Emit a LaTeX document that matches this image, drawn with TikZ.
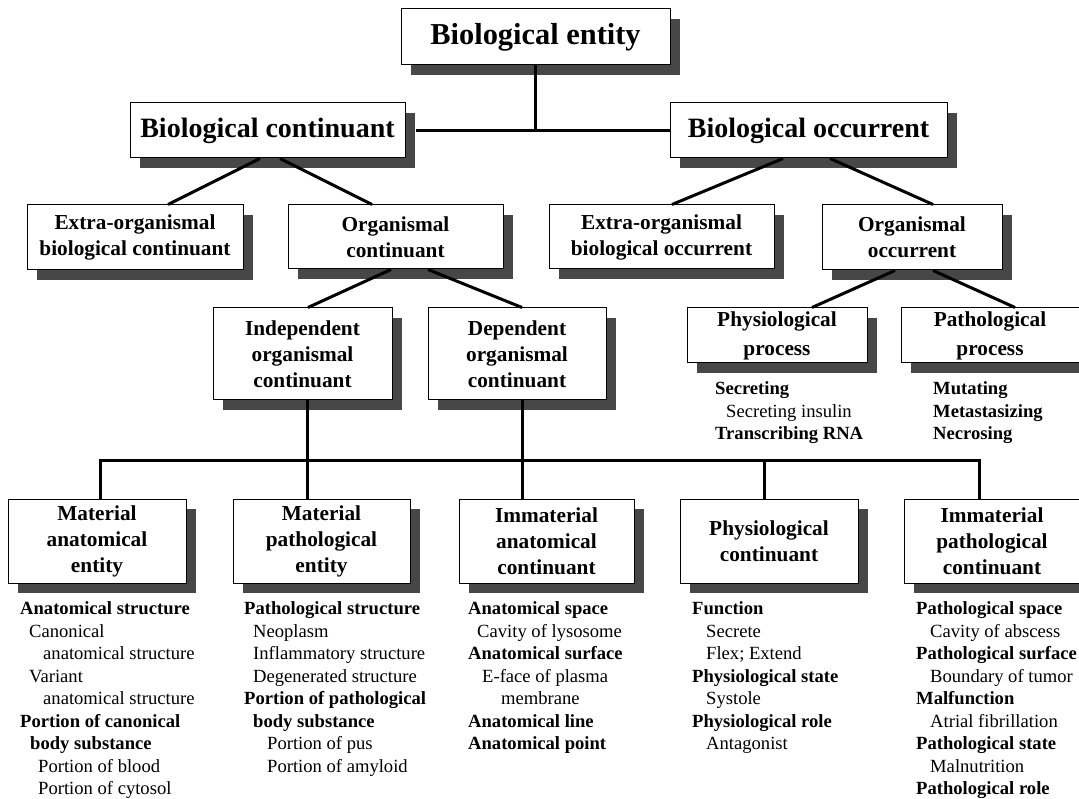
\documentclass[tikz,border=0pt]{standalone}
\usepackage{fontspec}
\setmainfont{Liberation Serif}

\begin{document}
\begin{tikzpicture}[
    x=1pt, y=-1pt,
    box/.style={rectangle, draw, fill=white, line width=1pt, align=center, inner sep=0pt,
        preaction={fill=black!72, transform canvas={shift={(10pt,-10pt)}}}},
    lvlone/.style={font=\fontsize{30.4}{34}\selectfont\bfseries},
    lvltwo/.style={font=\fontsize{28}{32}\selectfont\bfseries},
    lvlthree/.style={font=\fontsize{21.3}{26}\selectfont\bfseries},
    list/.style={anchor=north west, align=left, inner sep=0pt, font=\fontsize{18.6}{22.5}\selectfont},
    conn/.style={line width=3pt}
]
\useasboundingbox (0,0) rectangle (1079,799);

% Nodes
\node[box, lvlone, minimum width=269pt, minimum height=56pt] (entity) at (535.5,37) {Biological entity};
\node[box, lvltwo, minimum width=275pt, minimum height=55pt] (bcont) at (267.5,130.5) {Biological continuant};
\node[box, lvltwo, minimum width=277pt, minimum height=55pt] (bocc) at (808.5,130.5) {Biological occurrent};

\node[box, lvlthree, minimum width=216pt, minimum height=65pt] (xcont) at (135,237.5) {Extra-organismal\\biological continuant};
\node[box, lvlthree, minimum width=215pt, minimum height=64pt] (ocont) at (395.5,237) {Organismal\\continuant};
\node[box, lvlthree, minimum width=225pt, minimum height=64pt] (xocc) at (661.5,237) {Extra-organismal\\biological occurrent};
\node[box, lvlthree, minimum width=180pt, minimum height=65pt] (oocc) at (912,237.5) {Organismal\\occurrent};

\node[box, lvlthree, minimum width=179pt, minimum height=92pt] (indep) at (302.5,354) {Independent\\organismal\\continuant};
\node[box, lvlthree, minimum width=178pt, minimum height=92pt] (dep) at (517,354) {Dependent\\organismal\\continuant};
\node[box, lvlthree, minimum width=180pt, minimum height=55pt] (physproc) at (777,335.5) {Physiological\\[3pt]process};
\node[box, lvlthree, minimum width=178pt, minimum height=55pt] (pathproc) at (990,335.5) {Pathological\\[3pt]process};

\node[box, lvlthree, minimum width=178pt, minimum height=84pt] (mae) at (97,541) {Material\\anatomical\\entity};
\node[box, lvlthree, minimum width=177pt, minimum height=84pt] (mpe) at (321.5,541) {Material\\pathological\\entity};
\node[box, lvlthree, minimum width=175pt, minimum height=84pt] (iac) at (546.5,541) {Immaterial\\anatomical\\continuant};
\node[box, lvlthree, minimum width=178pt, minimum height=84pt] (pc) at (769,541) {Physiological\\continuant};
\node[box, lvlthree, minimum width=176pt, minimum height=84pt] (ipc) at (992,541) {Immaterial\\pathological\\continuant};

% Lists
\node[list] (physlist) at (715,381.5) {\textbf{Secreting}\\\hspace*{11pt}Secreting insulin\\\textbf{Transcribing RNA}};
\node[list] (pathlist) at (933,381.5) {\textbf{Mutating}\\\textbf{Metastasizing}\\\textbf{Necrosing}};

\node[list] (maelist) at (20,601.5) {\textbf{Anatomical structure}\\\hspace*{9pt}Canonical\\\hspace*{23pt}anatomical structure\\\hspace*{9pt}Variant\\\hspace*{23pt}anatomical structure\\\textbf{Portion of canonical}\\\hspace*{10pt}\textbf{body substance}\\\hspace*{18pt}Portion of blood\\\hspace*{18pt}Portion of cytosol};
\node[list] (mpelist) at (244,601.5) {\textbf{Pathological structure}\\\hspace*{9pt}Neoplasm\\\hspace*{9pt}Inflammatory structure\\\hspace*{9pt}Degenerated structure\\\textbf{Portion of pathological}\\\hspace*{9pt}\textbf{body substance}\\\hspace*{23pt}Portion of pus\\\hspace*{23pt}Portion of amyloid};
\node[list] (iaclist) at (468,601.5) {\textbf{Anatomical space}\\\hspace*{9pt}Cavity of lysosome\\\textbf{Anatomical surface}\\\hspace*{14pt}E-face of plasma\\\hspace*{33pt}membrane\\\textbf{Anatomical line}\\\textbf{Anatomical point}};
\node[list] (pclist) at (692,601.5) {\textbf{Function}\\\hspace*{14pt}Secrete\\\hspace*{14pt}Flex; Extend\\\textbf{Physiological state}\\\hspace*{14pt}Systole\\\textbf{Physiological role}\\\hspace*{14pt}Antagonist};
\node[list] (ipclist) at (916,601.5) {\textbf{Pathological space}\\\hspace*{14pt}Cavity of abscess\\\textbf{Pathological surface}\\\hspace*{14pt}Boundary of tumor\\\textbf{Malfunction}\\\hspace*{14pt}Atrial fibrillation\\\textbf{Pathological state}\\\hspace*{14pt}Malnutrition\\\textbf{Pathological role}};

% Lines
\draw[conn] ([xshift=10pt]bcont.east) -- (bocc.west);
\draw[conn] (entity.south) -- (entity.south |- bocc.west);
\draw[conn] ([xshift=-7.5pt]bcont.south) -- ([xshift=33pt]xcont.north);
\draw[conn] ([xshift=12.5pt]bcont.south) -- ([xshift=-23.5pt]ocont.north);
\draw[conn] ([xshift=-25.5pt]bocc.south) -- ([xshift=10.5pt]xocc.north);
\draw[conn] ([xshift=21.5pt]bocc.south) -- ([xshift=21pt]oocc.north);
\draw[conn] ([xshift=-4.5pt]ocont.south) -- ([xshift=5.5pt]indep.north);
\draw[conn] ([xshift=32.5pt]ocont.south) -- ([xshift=5pt]dep.north);
\draw[conn] ([xshift=-17pt]oocc.south) -- ([xshift=35pt]physproc.north);
\draw[conn] ([xshift=21pt]oocc.south) -- ([xshift=25pt]pathproc.north);

\coordinate (jmae) at (100,460);
\coordinate (jindep) at (307,460);
\coordinate (jdep) at (522,460);
\coordinate (jpc) at (764,460);
\coordinate (jipc) at (979,460);
\draw[conn] (jmae |- mae.north) -- (jmae) -- (jipc) -- (jipc |- ipc.north);
\draw[conn] (jindep |- indep.south) -- (jindep |- mpe.north);
\draw[conn] (jdep |- dep.south) -- (jdep |- iac.north);
\draw[conn] (jpc) -- (jpc |- pc.north);

\end{tikzpicture}
\end{document}
